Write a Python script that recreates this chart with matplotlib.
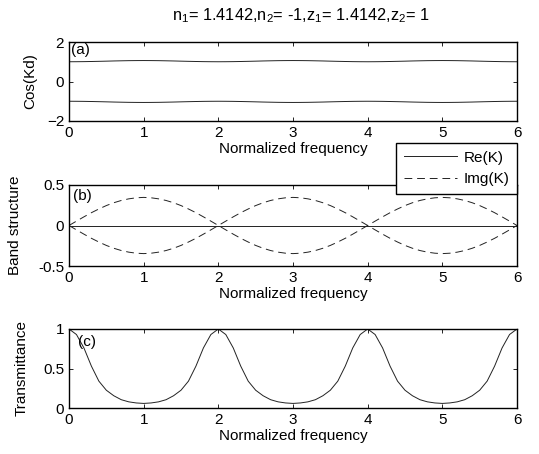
import matplotlib
matplotlib.use("Agg")
import matplotlib.pyplot as plt
import numpy as np

plt.rcParams['font.family'] = ['Liberation Sans', 'DejaVu Sans']
plt.rcParams['mathtext.fontset'] = 'custom'
plt.rcParams['mathtext.rm'] = 'Liberation Sans'
plt.rcParams['mathtext.it'] = 'Liberation Sans'
plt.rcParams['font.size'] = 11

# normalized frequency grid (0 .. 6, step 0.1)
freq = np.linspace(0, 6, 61)

cos_up = [1.000, 1.002, 1.006, 1.013, 1.021, 1.030, 1.040, 1.048, 1.055, 1.059, 1.061,
          1.059, 1.055, 1.048, 1.040, 1.030, 1.021, 1.013, 1.006, 1.002, 1.000,
          1.002, 1.006, 1.013, 1.021, 1.030, 1.040, 1.048, 1.055, 1.059, 1.061,
          1.059, 1.055, 1.048, 1.040, 1.030, 1.021, 1.013, 1.006, 1.002, 1.000,
          1.002, 1.006, 1.013, 1.021, 1.030, 1.040, 1.048, 1.055, 1.059, 1.061,
          1.059, 1.055, 1.048, 1.040, 1.030, 1.021, 1.013, 1.006, 1.002, 1.000]
cos_lo = [-1.000, -1.002, -1.006, -1.013, -1.021, -1.030, -1.040, -1.048, -1.055, -1.059, -1.061,
          -1.059, -1.055, -1.048, -1.040, -1.030, -1.021, -1.013, -1.006, -1.002, -1.000,
          -1.002, -1.006, -1.013, -1.021, -1.030, -1.040, -1.048, -1.055, -1.059, -1.061,
          -1.059, -1.055, -1.048, -1.040, -1.030, -1.021, -1.013, -1.006, -1.002, -1.000,
          -1.002, -1.006, -1.013, -1.021, -1.030, -1.040, -1.048, -1.055, -1.059, -1.061,
          -1.059, -1.055, -1.048, -1.040, -1.030, -1.021, -1.013, -1.006, -1.002, -1.000]

re_k = [0.0] * 61
im_k = [0.000, 0.054, 0.107, 0.158, 0.204, 0.246, 0.281, 0.309, 0.329, 0.342, 0.347,
        0.342, 0.329, 0.309, 0.281, 0.246, 0.204, 0.158, 0.107, 0.054, 0.000,
        0.054, 0.107, 0.158, 0.204, 0.246, 0.281, 0.309, 0.329, 0.342, 0.347,
        0.342, 0.329, 0.309, 0.281, 0.246, 0.204, 0.158, 0.107, 0.054, 0.000,
        0.054, 0.107, 0.158, 0.204, 0.246, 0.281, 0.309, 0.329, 0.342, 0.347,
        0.342, 0.329, 0.309, 0.281, 0.246, 0.204, 0.158, 0.107, 0.054, 0.000]
im_k_neg = [-v for v in im_k]

trans = [1.000, 0.930, 0.760, 0.530, 0.340, 0.225, 0.155, 0.105, 0.078, 0.064, 0.058,
         0.064, 0.078, 0.105, 0.155, 0.225, 0.340, 0.530, 0.760, 0.930, 1.000,
         0.930, 0.760, 0.530, 0.340, 0.225, 0.155, 0.105, 0.078, 0.064, 0.058,
         0.064, 0.078, 0.105, 0.155, 0.225, 0.340, 0.530, 0.760, 0.930, 1.000,
         0.930, 0.760, 0.530, 0.340, 0.225, 0.155, 0.105, 0.078, 0.064, 0.058,
         0.064, 0.078, 0.105, 0.155, 0.225, 0.340, 0.530, 0.760, 0.930, 1.000]

W, H = 539, 454
fig = plt.figure(figsize=(W / 100, H / 100), dpi=100)


def box(l, t, r, b):
    return [l / W, 1 - b / H, (r - l) / W, (b - t) / H]


ax_a = fig.add_axes(box(69, 42, 517, 121))
ax_b = fig.add_axes(box(69, 185, 517, 266))
ax_c = fig.add_axes(box(69, 329, 517, 408))

lw = 0.7
ax_a.plot(freq, cos_up, color='#222222', lw=lw)
ax_a.plot(freq, cos_lo, color='#222222', lw=lw)
ax_a.set_ylim(-2, 2)
ax_a.set_yticks([-2, 0, 2])
ax_a.set_ylabel('Cos(Kd)')
ax_a.text(0.03, 1.6, '(a)', ha='left', va='center')

l_re, = ax_b.plot(freq, re_k, color='#222222', lw=lw, label='Re(K)')
l_im, = ax_b.plot(freq, im_k, color='#222222', lw=lw, ls=(0, (8, 5)), label='Img(K)')
ax_b.plot(freq, im_k_neg, color='#222222', lw=lw, ls=(0, (8, 5)))
ax_b.set_ylim(-0.5, 0.5)
ax_b.set_yticks([-0.5, 0, 0.5])
ax_b.set_yticklabels(['-0.5', '0', '0.5'])
ax_b.set_ylabel('Band structure')
ax_b.text(0.05, 0.37, '(b)', ha='left', va='center')

ax_c.plot(freq, trans, color='#222222', lw=lw)
ax_c.set_ylim(0, 1)
ax_c.set_yticks([0, 0.5, 1])
ax_c.set_yticklabels(['0', '0.5', '1'])
ax_c.set_ylabel('Transmittance')
ax_c.text(0.12, 0.83, '(c)', ha='left', va='center')

for ax in (ax_a, ax_b, ax_c):
    ax.set_xlim(0, 6)
    ax.set_xticks(range(7))
    ax.set_xlabel('Normalized frequency', labelpad=1.5)
    ax.tick_params(direction='in', top=True, right=True, length=3, width=0.6, pad=3.5)
    for s in ax.spines.values():
        s.set_linewidth(1.0)

ax_a.yaxis.set_label_coords(-0.07, 0.5)
ax_b.yaxis.set_label_coords(-0.105, 0.5)
ax_c.yaxis.set_label_coords(-0.09, 0.5)

leg = ax_b.legend(handles=[l_re, l_im], loc='upper right',
                  bbox_to_anchor=(517 / W, 1 - 143 / H), bbox_transform=fig.transFigure,
                  borderaxespad=0, fancybox=False, framealpha=1, edgecolor='k',
                  handlelength=3.5, handletextpad=0.4, labelspacing=0.5, borderpad=0.5)
leg.get_frame().set_linewidth(1.0)

fig.text(301 / W, 1 - 16 / H, 'n$_1$= 1.4142,n$_2$= -1,z$_1$= 1.4142,z$_2$= 1',
         ha='center', va='center', fontsize=11.8)

fig.savefig('out.png', dpi=100)
